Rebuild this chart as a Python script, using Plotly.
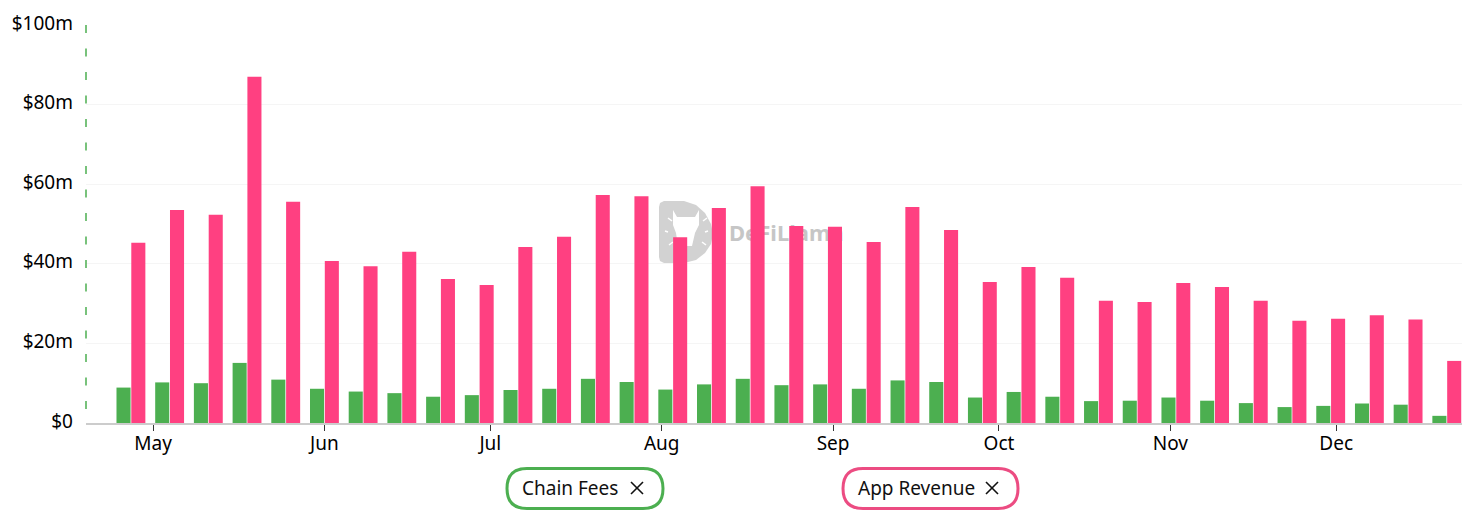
import pandas as pd
import plotly.graph_objects as go

# weekly buckets
weeks = pd.date_range("2025-04-27", periods=35, freq="7D")

chain_fees = [8.9, 10.2, 10.0, 15.1, 10.9, 8.6, 7.9, 7.5, 6.6, 7.0, 8.3, 8.6, 11.1, 10.3, 8.4, 9.7, 11.1, 9.5,
              9.7, 8.6, 10.7, 10.3, 6.4, 7.8, 6.6, 5.5, 5.6, 6.4, 5.6, 5.0, 4.0, 4.3, 4.9, 4.6, 1.8]
app_revenue = [45.3, 53.5, 52.3, 87.0, 55.6, 40.7, 39.4, 43.0, 36.2, 34.7, 44.2, 46.8, 57.3, 57.0, 46.7, 54.0,
               59.5, 49.5, 49.3, 45.5, 54.3, 48.5, 35.4, 39.2, 36.5, 30.7, 30.4, 35.2, 34.2, 30.7, 25.7, 26.2,
               27.1, 26.0, 15.6]

y_ticks = [0, 20, 40, 60, 80, 100]
y_labels = ["$0", "$20m", "$40m", "$60m", "$80m", "$100m"]
x_ticks = ["2025-05-01", "2025-06-01", "2025-07-01", "2025-08-01", "2025-09-01", "2025-10-01", "2025-11-01", "2025-12-01"]
x_labels = ["May", "Jun", "Jul", "Aug", "Sep", "Oct", "Nov", "Dec"]

GREEN = "#4CAF50"
PINK = "#FF4081"
FONT = "Noto Sans"

W, H = 1472, 526
L, R, T, B = 86, 1462, 25, 423


def px(x, y):
    # page pixels to paper coordinates, only used for the watermark and the chips
    return (x - L) / (R - L), (B - y) / (B - T)


def path(points):
    out = []
    for i, (x, y) in enumerate(points):
        a, b = px(x, y)
        out.append(("M" if i == 0 else "L") + f"{a:.5f},{b:.5f}")
    return " ".join(out) + " Z"


def seg(x0, y0, x1, y1, color, width, dash="solid", layer="above"):
    a0, b0 = px(x0, y0)
    a1, b1 = px(x1, y1)
    return dict(type="line", xref="paper", yref="paper", x0=a0, x1=a1, y0=b0, y1=b1, layer=layer,
                line=dict(color=color, width=width, dash=dash))


fig = go.Figure()
fig.add_bar(x=weeks, y=chain_fees, name="Chain Fees", marker=dict(color=GREEN, line_width=0))
fig.add_bar(x=weeks, y=app_revenue, name="App Revenue", marker=dict(color=PINK, line_width=0))

shapes = []

# dashed marker along the y axis
shapes.append(seg(86, 25, 86, 423, GREEN, 1.5, dash="8px,15.5px"))

# watermark sits behind the bars
logo = [(664, 201), (684, 201), (696, 205), (705, 213), (711, 224), (713, 234), (711, 244), (705, 253),
        (696, 260), (684, 263), (664, 263), (660, 261), (659, 257), (659, 207), (660, 203)]
shapes.append(dict(type="path", xref="paper", yref="paper", path=path(logo), layer="below",
                   fillcolor="#d2d2d2", line_width=0))
llama = [(673, 210), (677, 217), (695, 217), (699, 210), (699, 225), (695, 233), (692, 246), (678, 246),
         (676, 233), (673, 225)]
shapes.append(dict(type="path", xref="paper", yref="paper", path=path(llama), layer="below",
                   fillcolor="#ffffff", line_width=0))
for x0, y0, x1, y1 in [(668, 218, 672, 221), (665, 231, 668, 232), (669, 245, 673, 242),
                       (703, 221, 707, 218), (705, 232, 708, 231), (702, 242, 706, 245)]:
    shapes.append(seg(x0, y0, x1, y1, "#ffffff", 1.5, layer="below"))
wm_x0, wm_y0 = px(726, 248)
wm_x1, wm_y1 = px(836, 220)
shapes.append(dict(type="rect", xref="paper", yref="paper", x0=wm_x0, x1=wm_x1, y0=wm_y0, y1=wm_y1, layer="below",
                   fillcolor="rgba(0,0,0,0)", line_width=0,
                   label=dict(text="<b>DeFiLlama</b>", font=dict(family=FONT, size=22, color="#c6c6c6"),
                              textposition="middle left", padding=0)))

# legend chips
chips = [("Chain Fees", 507, 663, GREEN), ("App Revenue", 843, 1018, "#EC4C82")]
annotations = []
for label, x0, x1, color in chips:
    r = 20
    a0, b0 = px(x0, 508.5)
    a1, b1 = px(x1, 468.5)
    ra, rb = r / (R - L), r / (B - T)
    shapes.append(dict(type="path", xref="paper", yref="paper", layer="above", fillcolor="white",
                       line=dict(color=color, width=3),
                       path=f"M{a0 + ra},{b0} L{a1 - ra},{b0} Q{a1},{b0} {a1},{b0 + rb} Q{a1},{b1} {a1 - ra},{b1} "
                            f"L{a0 + ra},{b1} Q{a0},{b1} {a0},{b0 + rb} Q{a0},{b0} {a0 + ra},{b0} Z"))
    ax, ay = px(x0 + 13, 488)
    annotations.append(dict(text=label, xref="paper", yref="paper", x=ax, y=ay, xanchor="left", yanchor="middle",
                            showarrow=False, font=dict(family=FONT, size=19, color="#111111")))
    shapes.append(seg(x1 - 32, 482, x1 - 20, 494, "#111111", 1.6))
    shapes.append(seg(x1 - 32, 494, x1 - 20, 482, "#111111", 1.6))

fig.update_layout(
    width=W, height=H,
    margin=dict(l=L, r=W - R, t=T, b=H - B),
    paper_bgcolor="white", plot_bgcolor="white",
    showlegend=False,
    barmode="group", bargap=0.235, bargroupgap=0.05,
    font=dict(family=FONT, size=19, color="#000000"),
    shapes=shapes, annotations=annotations,
)
fig.update_xaxes(
    type="date", range=["2025-04-18 21:00", "2025-12-23 18:00"],
    tickmode="array", tickvals=x_ticks, ticktext=x_labels,
    showgrid=False, showline=True, linecolor="#cccccc", linewidth=1.5, zeroline=False,
    ticks="outside", ticklen=6, tickcolor="#333333", tickwidth=1, ticklabelstandoff=-4,
)
fig.update_yaxes(
    range=[0, 100], tickmode="array", tickvals=y_ticks, ticktext=y_labels,
    showgrid=True, gridcolor="#f5f5f5", gridwidth=1, zeroline=False, showline=False,
    ticks="", ticklabelstandoff=12, ticklabelshift=-2,
)

fig.write_html("out.html", config=dict(displayModeBar=False),
               post_script="document.body.style.margin='0';document.body.style.overflow='hidden';")
